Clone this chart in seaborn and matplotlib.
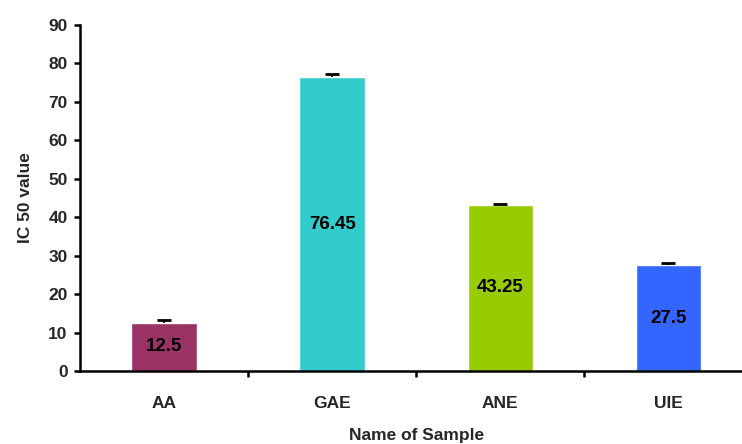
import matplotlib
matplotlib.use("Agg")
import matplotlib.pyplot as plt
import seaborn as sns
import numpy as np
import pandas as pd

# --- Data ---
samples = ["AA", "GAE", "ANE", "UIE"]
ic50 = [12.5, 76.45, 43.25, 27.5]
ic50_err = [0.7, 0.7, 0.3, 0.6]
bar_colors = ["#993366", "#33CCCC", "#99CC00", "#3366FF"]

sns.set_theme(style="white")
plt.rcParams["font.family"] = ["Liberation Sans", "DejaVu Sans"]
plt.rcParams["font.weight"] = "bold"

df = pd.DataFrame({"sample": samples, "ic50": ic50})

fig = plt.figure(figsize=(7.42, 4.44), dpi=100)
ax = fig.add_axes([0.108, 0.1644, 0.906, 0.7793])

sns.barplot(data=df, x="sample", y="ic50", hue="sample", palette=bar_colors,
            width=0.39, legend=False, ax=ax, saturation=1)

# upward-only error bars, cap on top only
x_pos = np.arange(len(samples))
eb = ax.errorbar(x_pos, ic50, yerr=[np.zeros(len(ic50)), ic50_err], fmt="none",
                 ecolor="black", elinewidth=1.2, capsize=5, capthick=2)
caps = eb[1]
if len(caps) == 2:
    caps[0].set_visible(False)

# value labels in the middle of each bar
for x, v in zip(x_pos, ic50):
    ax.text(x, v / 2, f"{v:g}", ha="center", va="center",
            fontsize=13.5, fontweight="bold", color="black")

ax.set_xlim(-0.5, 3.5)
ax.set_ylim(0, 90)
ax.set_yticks(np.arange(0, 91, 10))

# ticks between categories, labels centred under bars
ax.set_xticks(x_pos)
ax.set_xticks(x_pos[:-1] + 0.5, minor=True)
ax.tick_params(axis="x", which="major", length=0, pad=18, labelsize=12.5)
ax.tick_params(axis="x", which="minor", length=4, width=1.8, direction="out",
               bottom=True, color="black")
ax.tick_params(axis="y", which="major", length=4, width=1.8, direction="out",
               left=True, pad=5, labelsize=12.5, color="black")
for lbl in ax.get_xticklabels() + ax.get_yticklabels():
    lbl.set_fontweight("bold")

ax.set_xlabel("Name of Sample", fontsize=12.5, fontweight="bold", labelpad=12)
ax.set_ylabel("IC 50 value", fontsize=12.5, fontweight="bold", labelpad=11)

sns.despine(ax=ax)
for s in ["left", "bottom"]:
    ax.spines[s].set_linewidth(1.8)
    ax.spines[s].set_color("black")

fig.savefig("out.png", dpi=100)
